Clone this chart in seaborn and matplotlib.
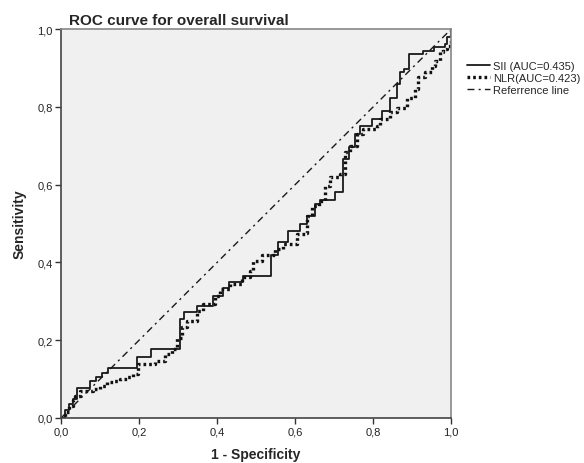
import matplotlib
matplotlib.use('Agg')
import matplotlib.pyplot as plt
import matplotlib.ticker as mticker
import seaborn as sns

# SII ROC steps (1 - specificity, sensitivity)
sii_fpr = [0.0, 0.01, 0.02, 0.03, 0.04, 0.074, 0.09, 0.105, 0.121, 0.196, 0.23,
           0.305, 0.315, 0.348, 0.39, 0.416, 0.43, 0.467, 0.538, 0.557, 0.583,
           0.613, 0.63, 0.651, 0.664, 0.703, 0.724, 0.737, 0.754, 0.767, 0.797,
           0.822, 0.844, 0.861, 0.869, 0.878, 0.891, 0.929, 0.955, 0.985, 0.99, 1.0]
sii_tpr = [0.0, 0.02, 0.035, 0.05, 0.076, 0.096, 0.105, 0.115, 0.128, 0.158, 0.177,
           0.254, 0.272, 0.289, 0.314, 0.334, 0.349, 0.364, 0.42, 0.452, 0.481,
           0.499, 0.52, 0.55, 0.56, 0.58, 0.666, 0.696, 0.73, 0.751, 0.769,
           0.79, 0.824, 0.859, 0.889, 0.897, 0.936, 0.944, 0.953, 0.961, 0.979, 1.0]

# NLR ROC steps
nlr_fpr = [0.0, 0.01, 0.02, 0.03, 0.036, 0.049, 0.083, 0.1, 0.117, 0.134, 0.151,
           0.168, 0.185, 0.198, 0.241, 0.267, 0.284, 0.297, 0.31, 0.322, 0.348,
           0.365, 0.395, 0.408, 0.433, 0.463, 0.485, 0.493, 0.515, 0.549, 0.57,
           0.604, 0.626, 0.63, 0.643, 0.66, 0.677, 0.69, 0.715, 0.728, 0.741,
           0.758, 0.775, 0.81, 0.818, 0.844, 0.861, 0.886, 0.908, 0.916, 0.933,
           0.95, 0.959, 0.972, 0.98, 0.989, 1.0]
nlr_tpr = [0.0, 0.015, 0.03, 0.045, 0.057, 0.07, 0.075, 0.083, 0.092, 0.096, 0.1,
           0.105, 0.113, 0.139, 0.147, 0.165, 0.177, 0.207, 0.233, 0.25, 0.276,
           0.293, 0.314, 0.332, 0.344, 0.362, 0.379, 0.404, 0.42, 0.434, 0.447,
           0.473, 0.477, 0.52, 0.546, 0.559, 0.597, 0.619, 0.627, 0.683, 0.7,
           0.73, 0.743, 0.751, 0.769, 0.786, 0.798, 0.824, 0.846, 0.876, 0.889,
           0.906, 0.918, 0.94, 0.949, 0.957, 1.0]

ref_x = [0.0, 1.0]
ref_y = [0.0, 1.0]

labels = ['SII (AUC=0.435)', 'NLR(AUC=0.423)', 'Referrence line']
ticks = [0.0, 0.2, 0.4, 0.6, 0.8, 1.0]

sns.set_style('ticks')
plt.rcParams['font.family'] = ['Liberation Sans', 'DejaVu Sans']

fig = plt.figure(figsize=(5.84, 4.64), dpi=100)
ax = fig.add_axes([0.1045, 0.097, 0.668, 0.838])
ax.set_facecolor('#f0f0f0')

sns.lineplot(x=sii_fpr, y=sii_tpr, estimator=None, sort=False, ax=ax,
             color='#1a1a1a', linewidth=1.3, drawstyle='steps-post')
sns.lineplot(x=nlr_fpr, y=nlr_tpr, estimator=None, sort=False, ax=ax,
             color='#111111', linewidth=2.4, drawstyle='steps-post')
sns.lineplot(x=ref_x, y=ref_y, estimator=None, sort=False, ax=ax,
             color='#1a1a1a', linewidth=1.0)

lines = ax.get_lines()
lines[0].set_linestyle('-')
lines[1].set_linestyle((0, (0.8, 0.9)))
lines[2].set_linestyle((0, (5, 3, 1.5, 3)))

ax.legend(lines[:3], labels, loc='upper left', bbox_to_anchor=(1.03, 0.93),
          frameon=False, fontsize=8, handlelength=2.0, handletextpad=0.3,
          labelspacing=0.2, borderaxespad=0)

ax.set_xlim(0, 1)
ax.set_ylim(0, 1)
ax.set_xticks(ticks)
ax.set_yticks(ticks)
fmt = mticker.FuncFormatter(lambda v, p: f'{v:.1f}'.replace('.', ','))
ax.xaxis.set_major_formatter(fmt)
ax.yaxis.set_major_formatter(fmt)
ax.tick_params(labelsize=8, length=4, width=1, color='#333333', pad=2,
               labelcolor='#222222')

for side, sp in ax.spines.items():
    sp.set_visible(True)
    sp.set_linewidth(1.2)
    sp.set_color('#444444' if side in ('left', 'bottom') else '#888888')

ax.set_xlabel('1 - Specificity', fontsize=10, fontweight='bold', labelpad=8)
ax.set_ylabel('Sensitivity', fontsize=10, fontweight='bold', labelpad=8)
ax.set_title('ROC curve for overall survival', fontsize=11, fontweight='bold',
             loc='left', x=0.02, pad=4)

fig.savefig('out.png', dpi=100)
